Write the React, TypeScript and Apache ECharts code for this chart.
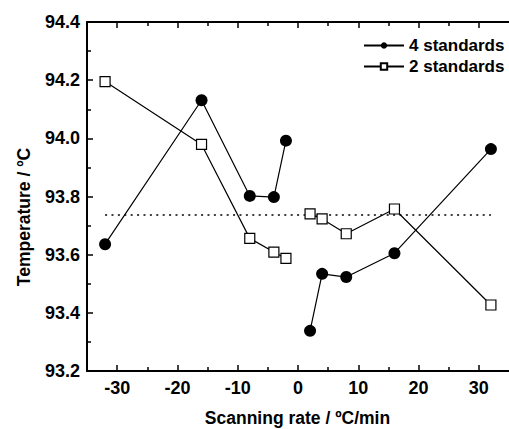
import React, { useEffect, useRef } from "react";
import * as echarts from "echarts";

// Scanning rates (ºC/min) and the measured transition temperatures (ºC)
const scanRates = [-32, -16, -8, -4, -2, 2, 4, 8, 16, 32];
const temps4Standards = [93.636, 94.131, 93.802, 93.798, 93.992, 93.338, 93.534, 93.523, 93.605, 93.963];
const temps2Standards = [94.195, 93.979, 93.656, 93.609, 93.587, 93.74, 93.723, 93.672, 93.757, 93.427];
const meanTemp = 93.736;
const meanSpan = [-32, 32];

const xMajorTicks = [-30, -20, -10, 0, 10, 20, 30];
const xMinorTicks = [-25, -15, -5, 5, 15, 25];

const xTitle = "Scanning rate / ºC/min";
const yTitle = "Temperature / ºC";

const FONT = "'Liberation Sans', Arial, sans-serif";

// Pair rates with temperatures; a '-' entry between heating and cooling breaks the line.
function buildSeries(temps: number[]) {
  const out: any[] = [];
  scanRates.forEach((r, i) => {
    if (i > 0 && scanRates[i - 1] < 0 && r > 0) out.push([0, "-"]);
    out.push([r, temps[i]]);
  });
  return out;
}

export default function App() {
  const ref = useRef<HTMLDivElement>(null);

  useEffect(() => {
    if (!ref.current) return;
    const chart = echarts.init(ref.current, undefined, { renderer: "svg" });
    const labelStyle = { fontFamily: FONT, fontWeight: "bold" as const, fontSize: 18, color: "#000" };
    const legendStyle = { ...labelStyle, fontSize: 17 };
    const axisLine = { show: true, onZero: false, lineStyle: { color: "#000", width: 2 } };
    const tickLine = { color: "#000", width: 1.5 };
    const xBase = { type: "value" as const, min: -35, max: 35, gridIndex: 0, splitLine: { show: false } };
    const titleFont = `bold 17.5px ${FONT}`;

    chart.setOption({
      animation: false,
      backgroundColor: "#fff",
      grid: { left: 87, top: 22, width: 431, height: 349 },
      legend: {
        data: ["4 standards", "2 standards"],
        orient: "vertical",
        left: 358,
        top: 32,
        itemWidth: 40,
        itemHeight: 8,
        itemGap: 4,
        textStyle: legendStyle,
      },
      graphic: [
        {
          type: "text",
          x: 297.5,
          y: 418,
          style: { text: xTitle, font: titleFont, fill: "#000", align: "center", verticalAlign: "middle" },
        },
        {
          type: "text",
          x: 23.5,
          y: 217,
          rotation: Math.PI / 2,
          style: { text: yTitle, font: titleFont, fill: "#000", align: "center", verticalAlign: "middle" },
        },
      ],
      xAxis: [
        {
          ...xBase,
          position: "bottom",
          axisLine,
          axisTick: { show: true, inside: true, length: 6, customValues: xMajorTicks, lineStyle: tickLine },
          axisLabel: { ...labelStyle, margin: 8, customValues: xMajorTicks },
        },
        {
          ...xBase,
          position: "bottom",
          axisLine: { show: false, onZero: false },
          axisTick: { show: true, inside: true, length: 4, customValues: xMinorTicks, lineStyle: tickLine },
          axisLabel: { show: false },
        },
        {
          ...xBase,
          position: "top",
          axisLine,
          axisTick: { show: true, inside: true, length: 6, customValues: xMajorTicks, lineStyle: tickLine },
          axisLabel: { show: false },
        },
        {
          ...xBase,
          position: "top",
          axisLine: { show: false, onZero: false },
          axisTick: { show: true, inside: true, length: 4, customValues: xMinorTicks, lineStyle: tickLine },
          axisLabel: { show: false },
        },
      ],
      yAxis: {
        type: "value",
        min: 93.2,
        max: 94.4,
        interval: 0.2,
        splitLine: { show: false },
        axisLine,
        axisTick: { show: true, inside: true, length: 6, lineStyle: tickLine },
        minorTick: { show: true, splitNumber: 2, length: 4, lineStyle: tickLine },
        axisLabel: { ...labelStyle, margin: 7, formatter: (v: number) => v.toFixed(1) },
      },
      series: [
        {
          name: "mean",
          type: "line",
          xAxisIndex: 0,
          data: meanSpan.map((x) => [x, meanTemp]),
          symbol: "none",
          lineStyle: { color: "#000", width: 1.5, type: [2, 4.4] },
          silent: true,
          z: 1,
        },
        {
          name: "2 standards",
          type: "line",
          xAxisIndex: 0,
          data: buildSeries(temps2Standards),
          connectNulls: false,
          symbol: "rect",
          symbolSize: 10,
          itemStyle: { color: "#fff", borderColor: "#000", borderWidth: 1.2 },
          lineStyle: { color: "#000", width: 1.2 },
          z: 2,
        },
        {
          name: "4 standards",
          type: "line",
          xAxisIndex: 0,
          data: buildSeries(temps4Standards),
          connectNulls: false,
          symbol: "circle",
          symbolSize: 12,
          itemStyle: { color: "#000", borderColor: "#000", borderWidth: 0 },
          lineStyle: { color: "#000", width: 1.2 },
          z: 3,
        },
      ],
    });
    return () => chart.dispose();
  }, []);

  return (
    <div
      ref={ref}
      style={{ position: "fixed", left: 0, top: 0, width: 509, height: 429, background: "#fff" }}
    />
  );
}
